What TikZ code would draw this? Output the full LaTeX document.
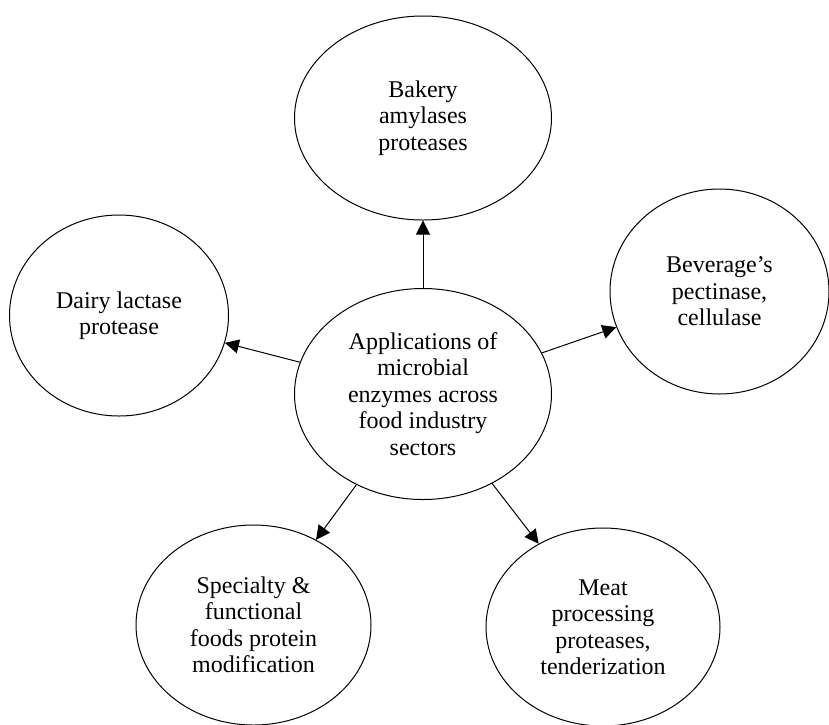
\documentclass[tikz,border=0pt]{standalone}
\usepackage{fontspec}
\setmainfont{Liberation Serif}
\usepackage{tikz}
\usetikzlibrary{arrows.meta,shapes.geometric}
\tikzset{
  sector/.style={ellipse, draw, line width=1pt, inner sep=0pt, align=center, font=\fontsize{24}{26.5}\selectfont},
  link/.style={->, line width=1pt},
}

\begin{document}
\begin{tikzpicture}[>={Triangle[length=14pt,width=14pt]}, x=1pt, y=-1pt]
  \useasboundingbox (0,0) rectangle (829,724);
  % hub
  \node[sector, minimum width=257pt, minimum height=211pt] (appl) at (423,394) {Applications of\\microbial\\enzymes across\\food industry\\sectors};
  % sectors
  \node[sector, minimum width=257pt, minimum height=204pt] (bakery) at (423,118) {Bakery\\amylases\\proteases};
  \node[sector, minimum width=219pt, minimum height=201pt] (dairy) at (119,315.5) {Dairy lactase\\protease};
  \node[sector, minimum width=219pt, minimum height=205pt] (beverage) at (719.5,291.5) {Beverage’s\\pectinase,\\cellulase};
  \node[sector, minimum width=235pt, minimum height=200pt] (specialty) at (253.5,625) {Specialty \&\\functional\\foods protein\\modification};
  \node[sector, minimum width=234pt, minimum height=198pt] (meat) at (603,627) {Meat\\processing\\proteases,\\tenderization};
  \draw[link] (appl) -- (bakery);
  \draw[link] (appl) -- (dairy);
  \draw[link] (appl) -- (beverage);
  \draw[link] (appl) -- (specialty);
  \draw[link] (appl) -- (meat);
\end{tikzpicture}
\end{document}
